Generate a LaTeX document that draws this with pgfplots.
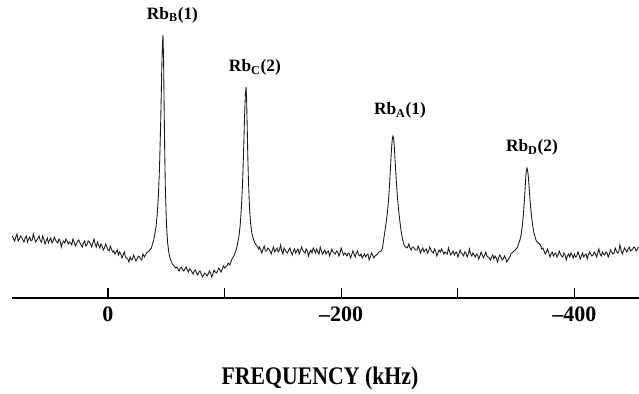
\documentclass[border=0pt]{standalone}
\usepackage{fontspec}
\setmainfont{Liberation Serif}
\usepackage{pgfplots}
\pgfplotsset{compat=1.18}
\begin{document}
\begin{tikzpicture}
\useasboundingbox (0pt,0pt) rectangle (479.25pt,294.75pt);
\begin{axis}[
  at={(9pt,71.25pt)}, anchor=south west,
  scale only axis, width=470.25pt, height=223.5pt,
  x dir=reverse, xmin=-455.4, xmax=82.3, ymin=0, ymax=298,
  axis x line=bottom, axis y line=none,
  axis line style={-, line width=1.2pt},
  xtick={0,-100,-200,-300,-400},
  xticklabels={0,,--200,,--400},
  tick align=inside, major tick length=7.5pt,
  tick style={line width=1pt, black},
  xticklabel style={font=\fontsize{16.5}{16.5}\selectfont\bfseries, yshift=-3pt},
  clip=false,
]
\addplot[black!90, line width=0.65pt] coordinates {
(82,62) (81,59) (80,57) (79,61) (78,64) (77,57) (76,59) (75,62) (74,61) (73,58) (72,56) (71,60) (70,62) (69,56) (68,59) (67,61) (66,57) (65,58) (64,64) (63,60)
(62,56) (61,58) (60,60) (59,62) (58,57) (57,56) (56,62) (55,59) (54,54) (53,57) (52,60) (51,55) (50,58) (49,60) (48,55) (47,57) (46,61) (45,58) (44,56) (43,55)
(42,59) (41,57) (40,51) (39,55) (38,57) (37,55) (36,59) (35,57) (34,54) (33,56) (32,55) (31,53) (30,59) (29,56) (28,52) (27,54) (26,57) (25,58) (24,55) (23,53)
(22,51) (21,55) (20,57) (19,52) (18,53) (17,57) (16,56) (15,54) (14,51) (13,55) (12,59) (11,54) (10,51) (9,56) (8,53) (7,50) (6,54) (5,52) (4,48) (3,50)
(2,54) (1,51) (0,48) (-1,47) (-2,52) (-3,49) (-4,46) (-5,47) (-6,44) (-7,46) (-8,48) (-9,43) (-10,46) (-11,44) (-12,40) (-13,43) (-14,46) (-15,41) (-16,40) (-17,39)
(-18,36) (-19,41) (-20,38) (-21,39) (-22,43) (-23,40) (-24,37) (-25,39) (-26,42) (-27,41) (-28,39) (-29,38) (-30,44) (-31.2,41) (-33,45) (-35.2,47)
(-37.2,50) (-39.2,58) (-41.2,71) (-42.2,83) (-43.2,101) (-44.2,130) (-45.2,175) (-45.7,203) (-46.2,232) (-46.7,254)
(-47.2,263) (-47.7,237.5) (-48.2,188.7) (-48.7,143.5) (-49.2,110.6) (-50.2,73) (-51.2,55) (-52.2,45.4) (-53.2,39.8) (-55.2,34)
(-57.2,31.3) (-58,30) (-59,31) (-60,29) (-61,27) (-62,30) (-63,31) (-64,28) (-65,27) (-66,29) (-67,31) (-68,28) (-69,26) (-70,29) (-71,28) (-72,26) (-73,24) (-74,27) (-75,28) (-76,25)
(-77,23) (-78,26) (-79,27) (-80,24) (-81,21) (-82,23) (-83,25) (-84,24) (-85,22) (-86,24) (-87,27) (-88,25) (-89,21) (-90,24) (-91,28) (-92,26) (-93,25) (-94,27) (-95,30) (-96,28)
(-97,26) (-98,29) (-99,32) (-100,30) (-101,31) (-102,32) (-103,35) (-104.5,33) (-106.4,39) (-108.4,43) (-110.4,50) (-112.4,62) (-113.4,73)
(-114.4,89.5) (-115.4,114) (-116.4,150) (-116.9,171) (-117.4,190.5) (-117.9,205) (-118.4,211) (-118.9,199) (-119.4,172) (-119.9,143)
(-120.4,120) (-121.4,90) (-122.4,74) (-123.4,65) (-124.4,60) (-126.4,54) (-128.4,51) (-129,49) (-130,51) (-131,48) (-132,45) (-133,49) (-134,52)
(-135,47) (-136,47) (-137,50) (-138,49) (-139,47) (-140,44) (-141,48) (-142,51) (-143,46) (-144,48) (-145,50) (-146,46) (-147,48) (-148,53) (-149,47) (-150,44) (-151,50) (-152,48) (-153,46) (-154,45)
(-155,48) (-156,50) (-157,46) (-158,43) (-159,47) (-160,49) (-161,45) (-162,47) (-163,49) (-164,44) (-165,47) (-166,51) (-167,48) (-168,46) (-169,45) (-170,49) (-171,47) (-172,42) (-173,46) (-174,48)
(-175,45) (-176,50) (-177,48) (-178,45) (-179,49) (-180,46) (-181,44) (-182,51) (-183,47) (-184,44) (-185,46) (-186,48) (-187,44) (-188,46) (-189,47) (-190,42) (-191,45) (-192,49) (-193,46) (-194,45)
(-195,44) (-196,47) (-197,46) (-198,42) (-199,45) (-200,50) (-201,46) (-202,43) (-203,45) (-204,44) (-205,42) (-206,45) (-207,44) (-208,40) (-209,43) (-210,47) (-211,44) (-212,41) (-213,45) (-214,47)
(-215,43) (-216,42) (-217,44) (-218,40) (-219,42) (-220,44) (-221,41) (-222,43) (-223,44) (-224,38) (-225,41) (-226,45) (-227,43) (-228,40) (-229,42) (-230.4,43) (-232.4,46) (-234.4,47)
(-235.4,50) (-236.4,58) (-237.4,66) (-238.4,74) (-239.4,83) (-240.4,95) (-241.4,112) (-242.4,133) (-242.9,144) (-243.4,153)
(-243.9,159.6) (-244.4,162) (-244.9,159.8) (-245.4,153.6) (-245.9,144.6) (-246.4,134) (-247.4,114.6) (-248.4,98.6) (-249.4,86) (-250.4,76)
(-251.4,67) (-252.4,60) (-253.4,55) (-254.4,52) (-256.4,50) (-257,51) (-258,54) (-259,50) (-260,48) (-261,51) (-262,51) (-263,49) (-264,48) (-265,48) (-266,52)
(-267,49) (-268,45) (-269,48) (-270,50) (-271,46) (-272,48) (-273,49) (-274,45) (-275,47) (-276,51) (-277,48) (-278,46) (-279,45) (-280,49) (-281,47) (-282,42) (-283,45) (-284,48) (-285,46) (-286,49)
(-287,47) (-288,44) (-289,46) (-290,45) (-291,44) (-292,50) (-293,46) (-294,43) (-295,45) (-296,47) (-297,43) (-298,45) (-299,46) (-300,41) (-301,44) (-302,48) (-303,45) (-304,44) (-305,42) (-306,46)
(-307,45) (-308,41) (-309,44) (-310,49) (-311,44) (-312,42) (-313,45) (-314,43) (-315,41) (-316,44) (-317,43) (-318,39) (-319,42) (-320,46) (-321,43) (-322,40) (-323,43) (-324,46) (-325,42) (-326,41)
(-327,40) (-328,38) (-329,41) (-330,43) (-331,39) (-332,42) (-333,40) (-334,36) (-335,40) (-336,43) (-337,41) (-338,38) (-339,39) (-340,42) (-341,40) (-342,36) (-343,38) (-344,40) (-345,42) (-345.5,44)
(-347.3,46) (-349.3,48) (-351.3,51) (-353.3,58) (-354.3,63) (-355.3,72) (-356.3,84) (-357.3,101) (-357.8,111) (-358.3,121)
(-358.8,127) (-359.3,130) (-359.8,128) (-360.3,123.5) (-360.8,116.5) (-361.3,108.6) (-362.3,93) (-363.3,81) (-364.3,72) (-365.3,65)
(-367.3,57) (-369.3,55) (-371.3,52) (-372,49) (-373,50) (-374,47) (-375,44) (-376,46) (-377,49) (-378,45) (-379,41) (-380,44) (-381,46) (-382,42) (-383,44) (-384,45) (-385,41)
(-386,43) (-387,47) (-388,44) (-389,42) (-390,41) (-391,45) (-392,43) (-393,38) (-394,42) (-395,44) (-396,41) (-397,45) (-398,43) (-399,40) (-400,44) (-401,41) (-402,42) (-403,46) (-404,43) (-405,39)
(-406,42) (-407,45) (-408,41) (-409,43) (-410,44) (-411,39) (-412,43) (-413,46) (-414,44) (-415,42) (-416,43) (-417,46) (-418,44) (-419,41) (-420,45) (-421,49) (-422,44) (-423,42) (-424,46) (-425,44)
(-426,43) (-427,46) (-428,45) (-429,41) (-430,44) (-431,48) (-432,46) (-433,44) (-434,45) (-435,50) (-436,47) (-437,45) (-438,46) (-439,53) (-440,48) (-441,44) (-442,47) (-443,50) (-444,48) (-445,46)
(-446,49) (-447,51) (-448,47) (-449,48) (-450,49) (-451,51) (-452,50) (-453,47) (-454,49) (-455,51)
};
\node[anchor=base, font=\fontsize{13}{13}\selectfont\bfseries] at (axis cs:-55.3,278.5) {Rb\textsubscript{B}(1)};
\node[anchor=base, font=\fontsize{13}{13}\selectfont\bfseries] at (axis cs:-126,226) {Rb\textsubscript{C}(2)};
\node[anchor=base, font=\fontsize{13}{13}\selectfont\bfseries] at (axis cs:-250.4,183) {Rb\textsubscript{A}(1)};
\node[anchor=base, font=\fontsize{13}{13}\selectfont\bfseries] at (axis cs:-363.6,146) {Rb\textsubscript{D}(2)};
\end{axis}
\node[anchor=base, xscale=0.86, font=\fontsize{19}{19}\selectfont\bfseries] at (240pt,6.75pt) {FREQUENCY (kHz)};
\end{tikzpicture}
\end{document}
